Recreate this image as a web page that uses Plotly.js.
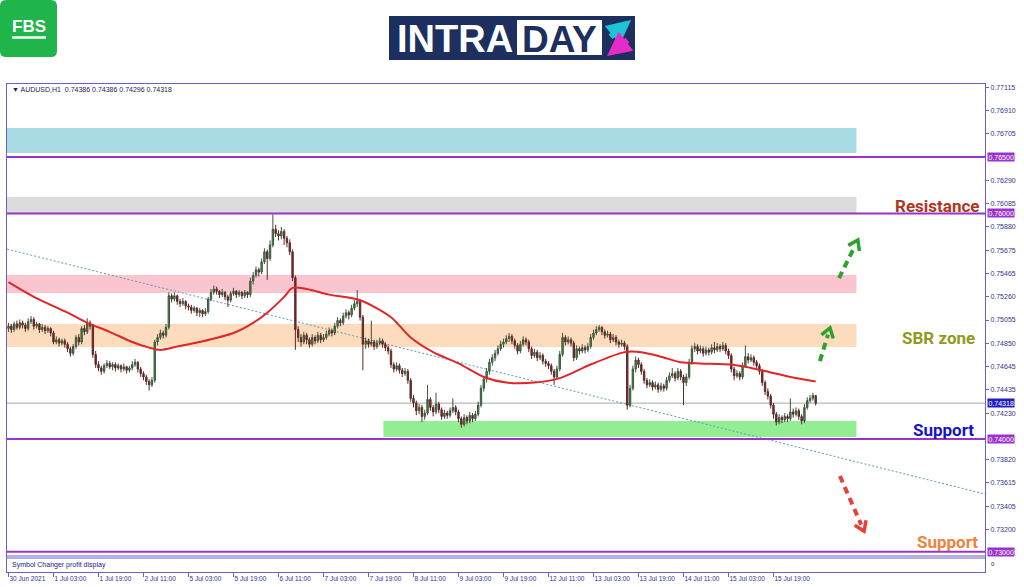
<!DOCTYPE html>
<html><head><meta charset="utf-8">
<script src="https://cdn.plot.ly/plotly-3.0.1.min.js"></script>
<style>html,body{margin:0;padding:0;background:#fff}#chart{width:1024px;height:587px}</style>
</head><body><div id="chart"></div>
<script>
// ---- data (AUDUSD H1) ----
const open=[
.7498,.7500,.7497,.7502,.7499,.7503,.7501,.7498,.7504,.7506,.7500,.7502,.7497,.7499,.7496,.7498,
.7494,.7486,.7488,.7485,.7487,.7484,.7480,.7476,.7482,.7490,.7486,.7498,.7495,.7503,.7500,.7475,
.7466,.7463,.7460,.7465,.7467,.7464,.7466,.7463,.7465,.7462,.7464,.7461,.7463,.7466,.7468,.7462,
.7458,.7455,.7451,.7448,.7452,.7486,.7490,.7494,.7492,.7499,.7527,.7524,.7527,.7522,.7520,.7522,
.7518,.7517,.7514,.7516,.7512,.7514,.7511,.7513,.7524,.7530,.7533,.7531,.7528,.7530,.7526,.7523,
.7529,.7531,.7528,.7530,.7527,.7530,.7528,.7540,.7545,.7550,.7548,.7557,.7566,.7560,.7572,.7586,
.7582,.7580,.7584,.7578,.7574,.7566,.7543,.7497,.7490,.7486,.7492,.7488,.7484,.7490,.7487,.7492,
.7488,.7490,.7493,.7496,.7494,.7500,.7505,.7503,.7509,.7512,.7510,.7516,.7520,.7522,.7508,.7484,
.7487,.7484,.7486,.7482,.7485,.7487,.7484,.7481,.7478,.7466,.7462,.7465,.7461,.7458,.7460,.7452,
.7436,.7432,.7425,.7428,.7420,.7423,.7435,.7428,.7424,.7431,.7426,.7420,.7423,.7421,.7425,.7428,
.7424,.7418,.7413,.7419,.7416,.7421,.7418,.7422,.7430,.7445,.7453,.7460,.7468,.7472,.7476,.7480,
.7484,.7486,.7489,.7491,.7487,.7483,.7478,.7484,.7488,.7486,.7480,.7474,.7477,.7472,.7474,.7469,
.7467,.7465,.7460,.7455,.7462,.7475,.7490,.7486,.7488,.7485,.7472,.7480,.7478,.7481,.7479,.7482,
.7490,.7494,.7497,.7499,.7495,.7492,.7493,.7488,.7490,.7486,.7484,.7485,.7482,.7430,.7445,.7462,
.7470,.7466,.7460,.7452,.7448,.7450,.7446,.7448,.7444,.7447,.7445,.7452,.7456,.7458,.7454,.7460,
.7455,.7450,.7455,.7468,.7480,.7482,.7478,.7480,.7476,.7479,.7477,.7481,.7479,.7482,.7480,.7483,
.7478,.7474,.7462,.7456,.7458,.7455,.7465,.7473,.7470,.7472,.7468,.7465,.7460,.7450,.7442,.7438,
.7430,.7422,.7415,.7419,.7417,.7420,.7418,.7424,.7422,.7425,.7420,.7416,.7428,.7434,.7436,.74386];
const high=[
.7503,.7502,.7504,.7505,.7506,.7505,.7503,.7507,.7509,.7508,.7504,.7503,.7502,.7501,.7500,.7499,
.7496,.7491,.7490,.7489,.7489,.7486,.7482,.7484,.7492,.7493,.7500,.7501,.7507,.7505,.7502,.7478,
.7469,.7465,.7467,.7470,.7469,.7468,.7468,.7467,.7466,.7467,.7465,.7465,.7469,.7471,.7469,.7464,
.7460,.7457,.7453,.7455,.7488,.7493,.7497,.7496,.7502,.7530,.7529,.7530,.7528,.7524,.7525,.7523,
.7520,.7519,.7518,.7517,.7516,.7515,.7516,.7526,.7533,.7536,.7535,.7532,.7533,.7531,.7528,.7531,
.7534,.7532,.7532,.7531,.7532,.7531,.7543,.7548,.7553,.7552,.7560,.7569,.7568,.7576,.7599,.7590,
.7585,.7588,.7586,.7580,.7577,.7568,.7545,.7500,.7493,.7495,.7494,.7490,.7493,.7492,.7495,.7494,
.7493,.7496,.7499,.7498,.7503,.7508,.7507,.7512,.7515,.7514,.7519,.7523,.7532,.7524,.7510,.7490,
.7489,.7505,.7488,.7488,.7490,.7489,.7486,.7483,.7480,.7468,.7468,.7467,.7463,.7463,.7462,.7454,
.7439,.7434,.7431,.7430,.7426,.7448,.7437,.7430,.7441,.7433,.7428,.7426,.7425,.7428,.7436,.7430,
.7426,.7420,.7422,.7421,.7424,.7423,.7425,.7433,.7448,.7456,.7463,.7471,.7475,.7479,.7483,.7487,
.7489,.7492,.7494,.7493,.7489,.7485,.7487,.7491,.7490,.7488,.7482,.7480,.7479,.7477,.7476,.7471,
.7469,.7467,.7462,.7465,.7478,.7494,.7492,.7491,.7490,.7487,.7483,.7482,.7484,.7483,.7485,.7493,
.7497,.7500,.7501,.7500,.7497,.7496,.7495,.7493,.7492,.7488,.7488,.7487,.7484,.7448,.7465,.7473,
.7472,.7468,.7462,.7454,.7453,.7452,.7451,.7450,.7450,.7449,.7455,.7459,.7463,.7460,.7463,.7462,
.7457,.7458,.7471,.7483,.7485,.7484,.7483,.7482,.7482,.7481,.7484,.7486,.7485,.7484,.7486,.7485,
.7480,.7476,.7464,.7461,.7460,.7468,.7483,.7476,.7475,.7474,.7470,.7467,.7462,.7452,.7445,.7440,
.7432,.7424,.7422,.7421,.7423,.7422,.7436,.7427,.7428,.7427,.7422,.7431,.7437,.7439,.7441,.74386];
const low=[
.7495,.7494,.7495,.7497,.7497,.7498,.7495,.7496,.7502,.7497,.7498,.7494,.7495,.7493,.7494,.7491,
.7484,.7484,.7482,.7483,.7481,.7477,.7473,.7474,.7480,.7483,.7484,.7492,.7493,.7497,.7472,.7463,
.7460,.7457,.7458,.7463,.7462,.7461,.7460,.7461,.7459,.7460,.7458,.7459,.7461,.7464,.7459,.7455,
.7452,.7448,.7443,.7446,.7450,.7483,.7488,.7489,.7490,.7497,.7521,.7522,.7519,.7517,.7518,.7515,
.7514,.7511,.7512,.7509,.7508,.7508,.7509,.7511,.7522,.7528,.7528,.7525,.7526,.7523,.7517,.7521,
.7527,.7525,.7526,.7524,.7525,.7525,.7526,.7537,.7543,.7544,.7546,.7555,.7541,.7558,.7570,.7579,
.7576,.7577,.7572,.7570,.7563,.7540,.7479,.7486,.7482,.7484,.7484,.7481,.7482,.7484,.7485,.7485,
.7486,.7488,.7491,.7491,.7492,.7498,.7500,.7501,.7507,.7506,.7508,.7514,.7517,.7505,.7461,.7480,
.7481,.7482,.7479,.7480,.7483,.7481,.7478,.7475,.7463,.7459,.7460,.7458,.7455,.7456,.7449,.7433,
.7428,.7421,.7422,.7415,.7417,.7421,.7425,.7420,.7422,.7423,.7417,.7418,.7418,.7419,.7423,.7421,
.7415,.7410,.7411,.7413,.7414,.7415,.7416,.7420,.7428,.7442,.7450,.7457,.7465,.7469,.7474,.7478,
.7481,.7484,.7486,.7484,.7480,.7475,.7476,.7482,.7483,.7477,.7471,.7472,.7469,.7470,.7466,.7464,
.7462,.7457,.7448,.7453,.7460,.7473,.7483,.7484,.7482,.7469,.7470,.7475,.7476,.7476,.7477,.7480,
.7488,.7492,.7495,.7492,.7489,.7490,.7485,.7486,.7483,.7481,.7482,.7479,.7426,.7428,.7443,.7459,
.7463,.7457,.7449,.7445,.7446,.7443,.7444,.7441,.7442,.7442,.7443,.7450,.7454,.7451,.7452,.7452,
.7430,.7447,.7453,.7466,.7477,.7475,.7476,.7473,.7474,.7474,.7475,.7476,.7477,.7477,.7478,.7475,
.7471,.7459,.7452,.7454,.7452,.7453,.7463,.7467,.7468,.7465,.7462,.7457,.7447,.7439,.7435,.7427,
.7418,.7412,.7413,.7414,.7415,.7415,.7416,.7419,.7420,.7417,.7413,.7414,.7426,.7432,.7434,.74296];
const close=[
.7500,.7497,.7502,.7499,.7503,.7501,.7498,.7504,.7506,.7500,.7502,.7497,.7499,.7496,.7498,.7494,
.7486,.7488,.7485,.7487,.7484,.7480,.7476,.7482,.7490,.7486,.7498,.7495,.7503,.7500,.7475,.7466,
.7463,.7460,.7465,.7467,.7464,.7466,.7463,.7465,.7462,.7464,.7461,.7463,.7466,.7468,.7462,.7458,
.7455,.7451,.7448,.7452,.7486,.7490,.7494,.7492,.7499,.7527,.7524,.7527,.7522,.7520,.7522,.7518,
.7517,.7514,.7516,.7512,.7514,.7511,.7513,.7524,.7530,.7533,.7531,.7528,.7530,.7526,.7523,.7529,
.7531,.7528,.7530,.7527,.7530,.7528,.7540,.7545,.7550,.7548,.7557,.7566,.7560,.7572,.7586,.7582,
.7580,.7584,.7578,.7574,.7566,.7543,.7497,.7490,.7486,.7492,.7488,.7484,.7490,.7487,.7492,.7488,
.7490,.7493,.7496,.7494,.7500,.7505,.7503,.7509,.7512,.7510,.7516,.7520,.7522,.7508,.7484,.7487,
.7484,.7486,.7482,.7485,.7487,.7484,.7481,.7478,.7466,.7462,.7465,.7461,.7458,.7460,.7452,.7436,
.7432,.7425,.7428,.7420,.7423,.7435,.7428,.7424,.7431,.7426,.7420,.7423,.7421,.7425,.7428,.7424,
.7418,.7413,.7419,.7416,.7421,.7418,.7422,.7430,.7445,.7453,.7460,.7468,.7472,.7476,.7480,.7484,
.7486,.7489,.7491,.7487,.7483,.7478,.7484,.7488,.7486,.7480,.7474,.7477,.7472,.7474,.7469,.7467,
.7465,.7460,.7455,.7462,.7475,.7490,.7486,.7488,.7485,.7472,.7480,.7478,.7481,.7479,.7482,.7490,
.7494,.7497,.7499,.7495,.7492,.7493,.7488,.7490,.7486,.7484,.7485,.7482,.7430,.7445,.7462,.7470,
.7466,.7460,.7452,.7448,.7450,.7446,.7448,.7444,.7447,.7445,.7452,.7456,.7458,.7454,.7460,.7455,
.7450,.7455,.7468,.7480,.7482,.7478,.7480,.7476,.7479,.7477,.7481,.7479,.7482,.7480,.7483,.7478,
.7474,.7462,.7456,.7458,.7455,.7465,.7473,.7470,.7472,.7468,.7465,.7460,.7450,.7442,.7438,.7430,
.7422,.7415,.7419,.7417,.7420,.7418,.7424,.7422,.7425,.7420,.7416,.7428,.7434,.7436,.74386,.74318];

// moving average (read at sample candles)
const maX=[0,9,21,28,36,44,50,54,60,68,80,87,92,98,101,106,114,125,136,143,151,160,169,177,187,196,207,219,225,232,239,246,257,264,271,278,287];
const maY=[.7539,.7526,.7512,.7503,.7495,.7486,.7481,.7479,.7482,.7486,.7494,.7503,.7512,.7526,.7534,.7533,.7528,.7523,.7508,.7490,.7477,.7467,.7455,.7450,.7450,.7454,.7466,.7477,.7477,.7473,.7468,.7467,.7466,.7463,.7459,.7455,.7451];

const xTickIdx=[0,16,32,48,64,80,96,112,128,144,160,176,192,208,224,240,256,272];
const xTickLabels=["30 Jun 2021","1 Jul 03:00","1 Jul 19:00","2 Jul 11:00","5 Jul 03:00","5 Jul 19:00","6 Jul 11:00","7 Jul 03:00","7 Jul 19:00","8 Jul 11:00","9 Jul 03:00","9 Jul 19:00","12 Jul 11:00","13 Jul 03:00","13 Jul 19:00","14 Jul 11:00","15 Jul 03:00","15 Jul 19:00"];
const yTickVals=[0.77115,0.76910,0.76705,0.76290,0.76085,0.75880,0.75675,0.75465,0.75260,0.75055,0.74850,0.74645,0.74435,0.74230,0.73820,0.73615,0.73405,0.73200];
const keyLevels=[0.765,0.760,0.740,0.730];
const lastPrice=0.74318;
const header="AUDUSD,H1  0.74386 0.74386 0.74296 0.74318";

// zones: cyan, grey, pink, SBR (orange), support (green)
const zoneLow =[0.76535,0.76004,0.75294,0.74816,0.74018];
const zoneHigh=[0.76757,0.76145,0.75454,0.75020,0.74160];
const zoneStart=[-0.53,-0.53,-0.53,-0.53,133.3];
const zoneEnd=301.5;
const trendX=[-0.53,347.2], trendY=[0.75684,0.73512];

// ---- geometry helpers ----
const ML=7, MT=84, PW=978, PH=488;
const XR=[-0.53,347.2], YR=[0.728209,0.771472];
const px=x=>(x-ML)/PW, py=y=>(MT+PH-y)/PH;
const dataToPix=(i,v)=>[ML+(i-XR[0])/(XR[1]-XR[0])*PW, MT+(YR[1]-v)/(YR[1]-YR[0])*PH];
const FRAME='#6b5fd0', PURPLE='#9a32cc', TICK='#33338a';

function roundRect(x0,y0,x1,y1,r){
  const a=px(x0),b=px(x1),c=py(y0),d=py(y1),rx=r/PW,ry=r/PH;
  return `M${a+rx},${c} L${b-rx},${c} Q${b},${c} ${b},${c-ry} L${b},${d+ry} Q${b},${d} ${b-rx},${d} L${a+rx},${d} Q${a},${d} ${a},${d+ry} L${a},${c-ry} Q${a},${c} ${a+rx},${c} Z`;
}

const zoneColors=['#a8dbe3','#dcdcdc','#fbc5cf','#fcdcbc','#93ee93'];
const shapes=[];
zoneLow.forEach((lo,i)=>shapes.push({type:'rect',xref:'x',yref:'y',x0:zoneStart[i],x1:zoneEnd,y0:lo,y1:zoneHigh[i],fillcolor:zoneColors[i],line:{width:0},layer:'below'}));
shapes.push({type:'line',xref:'paper',yref:'y',x0:0,x1:1,y0:lastPrice,y1:lastPrice,line:{color:'#a8a8a8',width:1},layer:'below'});
shapes.push({type:'line',xref:'x',yref:'y',x0:trendX[0],x1:trendX[1],y0:trendY[0],y1:trendY[1],line:{color:'#5a9ab8',width:1,dash:'2px,2px'},layer:'below'});
keyLevels.forEach(v=>shapes.push({type:'line',xref:'paper',yref:'y',x0:0,x1:1,y0:v,y1:v,line:{color:PURPLE,width:2}}));
// sub pane
shapes.push({type:'rect',xref:'paper',yref:'paper',x0:0,x1:1,y0:0,y1:py(556.5),fillcolor:'#fff',line:{width:0}});
shapes.push({type:'line',xref:'paper',yref:'paper',x0:0,x1:1,y0:py(556),y1:py(556),line:{color:FRAME,width:1}});
shapes.push({type:'line',xref:'paper',yref:'paper',x0:0,x1:1,y0:py(558),y1:py(558),line:{color:FRAME,width:1}});
// logos
shapes.push({type:'path',xref:'paper',yref:'paper',path:roundRect(0,0,57,57,6),fillcolor:'#1fb54a',line:{width:0}});
shapes.push({type:'line',xref:'paper',yref:'paper',x0:px(12),x1:px(46),y0:py(37.5),y1:py(37.5),line:{color:'#fff',width:2.5}});
shapes.push({type:'rect',xref:'paper',yref:'paper',x0:px(389),x1:px(635),y0:py(16),y1:py(60),fillcolor:'#1c2f5e',line:{width:0}});
shapes.push({type:'rect',xref:'paper',yref:'paper',x0:px(517),x1:px(602),y0:py(20),y1:py(55),fillcolor:'#ffffff',line:{width:0}});

// dashed arrows with open chevron heads (tail -> head in chart units)
const arrows=[
  {t:[295.3,0.75427],h:[302.0,0.75764],c:'#2ea02e'},
  {t:[288.5,0.74691],h:[292.1,0.74984],c:'#2ea02e'},
  {t:[295.6,0.73672],h:[304.2,0.73184],c:'#e8403a'}];
arrows.forEach(a=>{
  const T=dataToPix(a.t[0],a.t[1]), H=dataToPix(a.h[0],a.h[1]);
  const dx=H[0]-T[0], dy=H[1]-T[1], L=Math.hypot(dx,dy), ux=dx/L, uy=dy/L;
  const E=[H[0]-ux*7,H[1]-uy*7];
  shapes.push({type:'line',xref:'paper',yref:'paper',x0:px(T[0]),y0:py(T[1]),x1:px(E[0]),y1:py(E[1]),line:{color:a.c,width:4,dash:'7px,5px'}});
  const ang=0.6, hl=11;
  const p1=[H[0]-hl*(ux*Math.cos(ang)-uy*Math.sin(ang)), H[1]-hl*(uy*Math.cos(ang)+ux*Math.sin(ang))];
  const p2=[H[0]-hl*(ux*Math.cos(-ang)-uy*Math.sin(-ang)), H[1]-hl*(uy*Math.cos(-ang)+ux*Math.sin(-ang))];
  shapes.push({type:'path',xref:'paper',yref:'paper',path:`M${px(p1[0])},${py(p1[1])} L${px(H[0])},${py(H[1])} L${px(p2[0])},${py(p2[1])}`,line:{color:a.c,width:3.5},fillcolor:'rgba(0,0,0,0)'});
});

const annotations=[];
// key level labels
keyLevels.forEach(v=>annotations.push({xref:'paper',yref:'y',x:1,y:v,xanchor:'left',yanchor:'middle',xshift:2,text:v.toFixed(5),showarrow:false,bgcolor:PURPLE,borderpad:0.5,font:{family:'Liberation Sans, Arial',size:7,color:'#fff'}}));
annotations.push({xref:'paper',yref:'y',x:1,y:lastPrice,xanchor:'left',yanchor:'middle',xshift:2,text:lastPrice.toFixed(5),showarrow:false,bgcolor:'#1f22c0',borderpad:0.5,font:{family:'Liberation Sans, Arial',size:7,color:'#fff'}});

const lbl=(t,x,y,c)=>({xref:'x',yref:'y',x:x,y:y,text:t,showarrow:false,xanchor:'center',yanchor:'middle',font:{family:'Roboto, Arial',size:17,weight:700,color:c}});
annotations.push(lbl('Resistance',330.0,0.76066,'#b2361c'));
annotations.push(lbl('SBR zone',330.5,0.74894,'#8f9a1c'));
annotations.push(lbl('Support',332.6,0.74080,'#1515c8'));
annotations.push(lbl('Support',334.0,0.73090,'#f2813a'));

annotations.push({xref:'paper',yref:'paper',x:px(10),y:py(89.5),xanchor:'left',yanchor:'middle',showarrow:false,text:'▼ '+header,font:{family:'Liberation Sans, Arial',size:7,color:'#1a1a5e'}});
annotations.push({xref:'paper',yref:'paper',x:px(10),y:py(564.5),xanchor:'left',yanchor:'middle',showarrow:false,text:'Symbol Changer profit display',font:{family:'Liberation Sans, Arial',size:7,color:'#22227a'}});
annotations.push({xref:'paper',yref:'paper',x:px(989),y:py(564),xanchor:'left',yanchor:'middle',showarrow:false,text:'0',font:{family:'Liberation Sans, Arial',size:6,color:'#22227a'}});
annotations.push({xref:'paper',yref:'paper',x:px(29),y:py(27),xanchor:'center',yanchor:'middle',showarrow:false,text:'FBS',font:{family:'Liberation Sans, Arial',size:17,weight:700,color:'#fff'}});
annotations.push({xref:'paper',yref:'paper',x:px(455),y:py(39),xanchor:'center',yanchor:'middle',showarrow:false,text:'INTRA',font:{family:'Liberation Sans, Arial',size:38,weight:700,color:'#fff'}});
annotations.push({xref:'paper',yref:'paper',x:px(559),y:py(39),xanchor:'center',yanchor:'middle',showarrow:false,text:'DAY',font:{family:'Liberation Sans, Arial',size:37,weight:700,color:'#1c2f5e'}});
annotations.push({xref:'paper',yref:'paper',x:px(631),y:py(20),ax:-22,ay:18,text:'',showarrow:true,arrowhead:2,arrowsize:0.8,arrowwidth:6,arrowcolor:'#1ec4d6'});
annotations.push({xref:'paper',yref:'paper',x:px(607),y:py(56),ax:22,ay:-17,text:'',showarrow:true,arrowhead:2,arrowsize:0.8,arrowwidth:6,arrowcolor:'#e62cc8'});

const idx=close.map((_,i)=>i);
const traces=[
 {type:'candlestick',x:idx,open:open,high:high,low:low,close:close,whiskerwidth:0,
  increasing:{line:{color:'#3d553d',width:1},fillcolor:'#3a9a3a'},
  decreasing:{line:{color:'#5a2a2a',width:1},fillcolor:'#931c1c'},hoverinfo:'skip'},
 {type:'scatter',mode:'lines',x:maX,y:maY,line:{color:'#e02626',width:2,shape:'spline',smoothing:0.8},hoverinfo:'skip'}
];

const layout={
 width:1024,height:587,margin:{l:ML,r:1024-ML-PW,t:MT,b:587-MT-PH},
 paper_bgcolor:'#fff',plot_bgcolor:'#fff',showlegend:false,
 xaxis:{range:XR,tickvals:xTickIdx,ticktext:xTickLabels,ticks:'outside',ticklen:4,tickcolor:FRAME,tickangle:0,
   ticklabelposition:'outside right',showline:true,linecolor:FRAME,linewidth:1,mirror:true,showgrid:false,zeroline:false,
   rangeslider:{visible:false},tickfont:{family:'Liberation Sans, Arial',size:6.5,color:TICK}},
 yaxis:{side:'right',range:YR,tickvals:yTickVals,ticktext:yTickVals.map(v=>v.toFixed(5)),ticks:'outside',ticklen:3,tickcolor:FRAME,
   showline:true,linecolor:FRAME,linewidth:1,mirror:true,showgrid:false,zeroline:false,
   tickfont:{family:'Liberation Sans, Arial',size:7,color:TICK}},
 shapes:shapes,annotations:annotations
};
Plotly.newPlot('chart',traces,layout,{displayModeBar:false,staticPlot:true});
</script></body></html>
